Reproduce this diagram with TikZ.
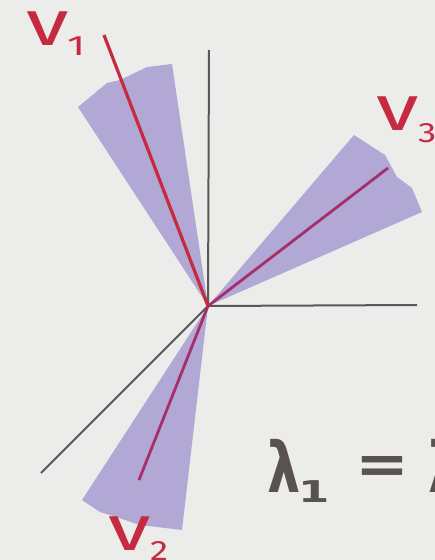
\documentclass[tikz,border=0pt]{standalone}
\usepackage{fontspec}
\newfontfamily\labfont{Fira Sans}
\newfontfamily\lamfont{DejaVu Sans}
\definecolor{bg}{HTML}{ECEDEA}
\definecolor{axis}{HTML}{585858}
\definecolor{vred}{HTML}{C62A40}
\definecolor{vmag}{HTML}{A62E6A}
\definecolor{wedge}{HTML}{A497D0}
\definecolor{lamcol}{HTML}{58534E}
\tikzset{
  axisline/.style={draw=axis, line width=2pt},
  vecline/.style={draw=vred, line width=3.2pt},
  magline/.style={draw=vmag, line width=2.8pt},
  cone/.style={fill=wedge, fill opacity=0.8, draw=none},
  vlab/.style={text=vred, font=\labfont\fontsize{64}{64}\selectfont, inner sep=0pt, anchor=base west},
  vsub/.style={text=vred, font=\labfont\fontsize{28}{28}\selectfont, inner sep=0pt, anchor=base west},
  lamtext/.style={text=lamcol, font=\lamfont\bfseries\fontsize{70}{70}\selectfont, inner sep=0pt, anchor=base west}
}
\begin{document}
\begin{tikzpicture}[x=1pt,y=-1pt]
\useasboundingbox (0,0) rectangle (435,560);
\clip (0,0) rectangle (435,560);
\fill[bg] (0,0) rectangle (435,560);
% axes
\coordinate (O) at (208,306);
\coordinate (zt) at (209,50);
\coordinate (xr) at (417,305);
\coordinate (yd) at (41,473);
\draw[axisline] (O) -- (zt);
\draw[axisline] (O) -- (xr);
\draw[axisline] (O) -- (yd);
% cones
\fill[cone] (O) -- (78,107) -- (107,83) -- (120,80) -- (147,67) -- (172,64) -- cycle;
\fill[cone] (O) -- (354,135) -- (385,155) -- (397,177) -- (412,188) -- (422,212) -- cycle;
\fill[cone] (O) -- (82,500) -- (100,512) -- (125,520) -- (140,525) -- (182,530) -- cycle;
% vectors
\coordinate (v1e) at (104,35);
\coordinate (v2e) at (139,480);
\coordinate (v3e) at (388,168);
\draw[magline] (O) -- (v2e);
\draw[magline] (O) -- (v3e);
\draw[vecline] (O) -- (v1e);
% labels
\node[vlab] (l1) at (26,45) {\scalebox{1.35}[1]{v}};
\node[vsub] (s1) at (67,55) {\scalebox{1.5}[1]{1}};
\node[vlab] (l3) at (376,130) {\scalebox{1.35}[1]{v}};
\node[vsub] (s3) at (418,142) {\scalebox{1.3}[1]{3}};
\node[vlab] (l2) at (108,550) {\scalebox{1.35}[1]{v}};
\node[vsub] (s2) at (150,560) {\scalebox{1.3}[1]{2}};
% lambda
\node[lamtext] (lam) at (267,492) {\scalebox{0.75}[1]{λ}};
\node[text=lamcol, font=\lamfont\bfseries\fontsize{30}{30}\selectfont, inner sep=0pt, anchor=base west] (lsub) at (298,502) {\scalebox{1.5}[1]{1}};
\node[text=lamcol, font=\lamfont\bfseries\fontsize{56}{56}\selectfont, inner sep=0pt, anchor=base west] (eq) at (355,483) {\scalebox{1.15}[1]{=}};
\node[lamtext] (lam2) at (428,492) {\scalebox{0.75}[1]{λ}};
\end{tikzpicture}
\end{document}
